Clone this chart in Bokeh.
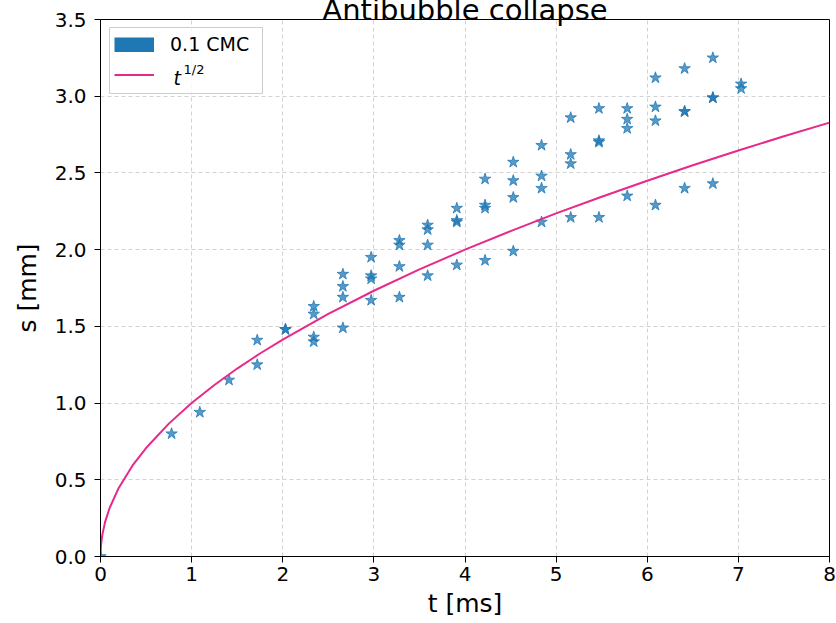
from bokeh.plotting import figure
from bokeh.models import (Range1d, FixedTicker, PrintfTickFormatter, Legend, LegendItem, Label,
                          BoxAnnotation)
from bokeh.embed import file_html
from bokeh.resources import INLINE

# ---- data ----
t_ms = [0.00,
        0.78,
        1.09,
        1.41,
        1.72, 1.72,
        2.03, 2.03,
        2.34, 2.34, 2.34, 2.34,
        2.66, 2.66, 2.66, 2.66,
        2.97, 2.97, 2.97, 2.97,
        3.28, 3.28, 3.28, 3.28,
        3.59, 3.59, 3.59, 3.59,
        3.91, 3.91, 3.91, 3.91,
        4.22, 4.22, 4.22, 4.22,
        4.53, 4.53, 4.53, 4.53,
        4.84, 4.84, 4.84, 4.84,
        5.16, 5.16, 5.16, 5.16,
        5.47, 5.47, 5.47, 5.47,
        5.78, 5.78, 5.78, 5.78,
        6.09, 6.09, 6.09, 6.09,
        6.41, 6.41, 6.41, 6.41,
        6.72, 6.72, 6.72, 6.72,
        7.03, 7.03]
s_mm = [0.00,
        0.80,
        0.94,
        1.15,
        1.25, 1.41,
        1.48, 1.48,
        1.63, 1.58, 1.43, 1.40,
        1.84, 1.76, 1.69, 1.49,
        1.95, 1.83, 1.81, 1.67,
        2.06, 2.03, 1.89, 1.69,
        2.16, 2.13, 2.03, 1.83,
        2.27, 2.19, 2.18, 1.90,
        2.46, 2.29, 2.27, 1.93,
        2.57, 2.45, 2.34, 1.99,
        2.68, 2.48, 2.40, 2.18,
        2.86, 2.62, 2.56, 2.21,
        2.92, 2.71, 2.70, 2.21,
        2.92, 2.85, 2.79, 2.35,
        3.12, 2.93, 2.84, 2.29,
        3.18, 2.90, 2.90, 2.40,
        3.25, 2.99, 2.99, 2.43,
        3.08, 3.05]

curve_t = [0.0, 0.005, 0.02, 0.05, 0.1, 0.2, 0.35, 0.5, 0.75, 1.0, 1.25, 1.5, 1.75, 2.0,
           2.5, 3.0, 3.5, 4.0, 4.5, 5.0, 5.5, 6.0, 6.5, 7.0, 7.5, 8.0]
curve_s = [0.0, 0.071, 0.141, 0.224, 0.316, 0.447, 0.592, 0.707, 0.866, 1.0, 1.118, 1.225, 1.323, 1.414,
           1.581, 1.732, 1.871, 2.0, 2.121, 2.236, 2.345, 2.449, 2.550, 2.646, 2.739, 2.828]

x_ticks = [0, 1, 2, 3, 4, 5, 6, 7, 8]
y_ticks = [0.0, 0.5, 1.0, 1.5, 2.0, 2.5, 3.0, 3.5]

title_text = "Antibubble collapse"
x_label = "t [ms]"
y_label = "s [mm]"
series_label = "0.1 CMC"
fit_base = "t"
fit_exp = "1/2"

FONT = "DejaVu Sans"
BLUE = "#1f77b4"
PINK = "#e7298a"

p = figure(width=836, height=623, output_backend="svg", toolbar_location=None,
           x_range=Range1d(0, 8), y_range=Range1d(0, 3.5),
           min_border_left=100, min_border_right=7, min_border_top=19, min_border_bottom=67)
p.background_fill_color = "white"
p.border_fill_color = "white"
p.outline_line_color = "black"
p.outline_line_width = 1
p.outline_line_alpha = 1

# title: pushed partly above the top edge, as in the (cropped) reference
p.title.text = title_text
p.title.align = "center"
p.title.vertical_align = "top"
p.title.standoff = -18
p.title.text_font = FONT
p.title.text_font_size = "29px"
p.title.text_font_style = "normal"
p.title.text_color = "black"

p.xaxis.ticker = FixedTicker(ticks=x_ticks)
p.yaxis.ticker = FixedTicker(ticks=y_ticks)
p.xaxis.formatter = PrintfTickFormatter(format="%d")
p.yaxis.formatter = PrintfTickFormatter(format="%.1f")
for ax in (p.xaxis, p.yaxis):
    ax.major_tick_out = 6
    ax.major_tick_in = 0
    ax.minor_tick_out = 0
    ax.minor_tick_in = 0
    ax.axis_line_color = "black"
    ax.major_tick_line_color = "black"
    ax.major_label_text_font = FONT
    ax.major_label_text_font_size = "20px"
    ax.major_label_text_color = "black"
    ax.axis_label_text_font = FONT
    ax.axis_label_text_font_size = "25px"
    ax.axis_label_text_font_style = "normal"
    ax.axis_label_text_color = "black"
p.xaxis.axis_label = x_label
p.yaxis.axis_label = y_label
p.xaxis.major_label_standoff = 4
p.yaxis.major_label_standoff = 8
p.xaxis.axis_label_standoff = 5
p.yaxis.axis_label_standoff = 10

p.grid.grid_line_color = "#d2d2d2"
p.grid.grid_line_dash = "4 3"
p.grid.grid_line_width = 1

r_pts = p.scatter(t_ms, s_mm, marker="star", size=12,
                  fill_color=BLUE, fill_alpha=0.75, line_color=BLUE, line_alpha=0.75)
r_fit = p.line(curve_t, curve_s, line_color=PINK, line_width=2)
# single-point line: draws nothing in the plot, only a filled bar in the legend
r_patch = p.line(t_ms[:1], s_mm[:1], line_color=BLUE, line_width=15, line_cap="butt")

# legend frame (semi-transparent white box with light border)
p.add_layout(BoxAnnotation(left=0.099, right=1.778, top=3.448, bottom=3.018,
                           fill_color="white", fill_alpha=0.8,
                           line_color="#cccccc", line_width=1, line_alpha=1))

legend = Legend(items=[LegendItem(label=series_label, renderers=[r_patch]),
                       LegendItem(label=" ", renderers=[r_fit])],
                location="top_left", margin=8, padding=6, spacing=12,
                glyph_width=40, glyph_height=15, label_standoff=16,
                border_line_alpha=0, background_fill_alpha=0,
                label_text_font=FONT, label_text_font_size="19px", label_text_color="black")
p.add_layout(legend)

# label of the second legend entry: italic t with superscript 1/2
p.add_layout(Label(x=0.801, y=3.047, text=fit_base, text_font=FONT, text_font_size="19px",
                   text_font_style="italic", text_baseline="bottom", text_color="black"))
p.add_layout(Label(x=0.911, y=3.128, text=fit_exp, text_font=FONT, text_font_size="13px",
                   text_baseline="bottom", text_color="black"))

open("out.html", "w").write(file_html(p, INLINE))
